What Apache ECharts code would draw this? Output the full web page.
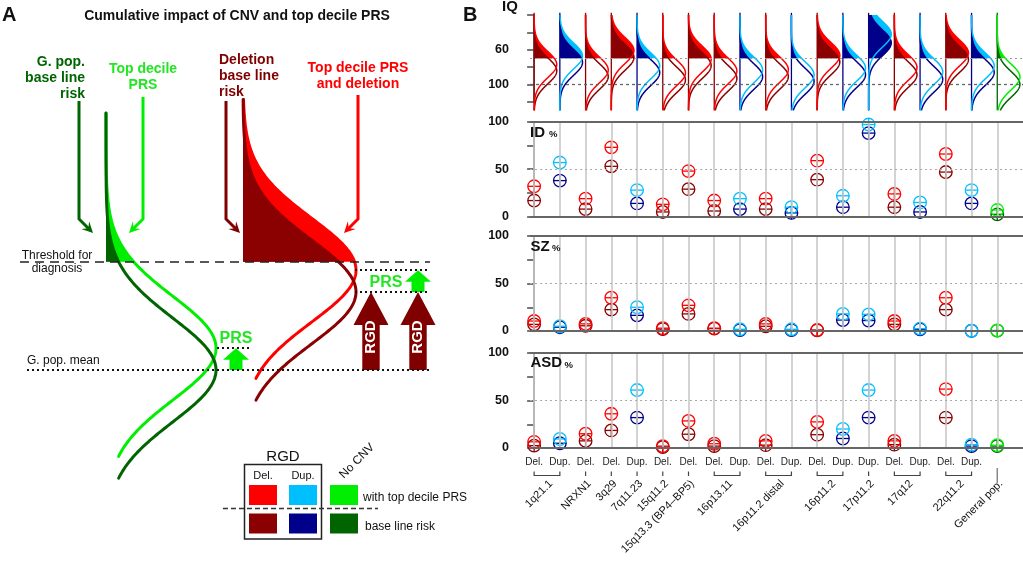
<!DOCTYPE html>
<html><head><meta charset="utf-8">
<script src="https://cdn.jsdelivr.net/npm/echarts@6/dist/echarts.min.js"></script>
<style>html,body{margin:0;padding:0;background:#fff}#c{width:1023px;height:561px}</style>
</head><body><div id="c"></div>
<script>
// ---------------- Panel B data ----------------
const cnvGroups = ['1q21.1','NRXN1','3q29','7q11.23','15q11.2','15q13.3 (BP4\u2013BP5)','16p13.11','16p11.2 distal','16p11.2','17p11.2','17q12','22q11.2','General pop.'];
const groupStart = [0,2,3,4,5,6,7,9,11,13,14,16,18];
const groupEnd   = [1,2,3,4,5,6,8,10,12,13,15,17,18];
const cnvType = ['Del.','Dup.','Del.','Del.','Dup.','Del.','Del.','Del.','Dup.','Del.','Dup.','Del.','Dup.','Dup.','Del.','Dup.','Del.','Dup.',''];
// mean IQ (baseline / with top decile PRS)
const iqMeanBase = [84.4,74.6,91.0,68.8,86.4,94.8,78.3,93.0,91.0,91.0,96.4,74.1,88.8,52.1,88.8,94.2,71.2,86.2,100];
const iqMeanPRS  = [77.2,67.3,83.4,61.0,78.7,86.7,70.9,84.6,83.4,83.0,89.0,66.6,81.3,42.2,80.6,85.5,63.8,78.7,91.5];
// % affected
const idBase  = [17,38,8,53,14,5,29,6,8,8,4,39,10,88,10,5,47,14,2.5];
const idPRS   = [32,57,19,73,28,13,48,17,19,19,10,59,22,97,24,15,66,28,7];
const szBase  = [7,4,5.5,22.5,16.5,2,18,2.5,1,5,1,0.7,11.5,11,7,1.8,22.5,0.3,0.4];
const szPRS   = [10.5,5,7.5,35,25,3,27,3,1.8,7.5,1.8,1,18,17.5,10.5,2.5,35,0.3,0.6];
const asdBase = [2.5,5,7.5,18.5,32,1,14.5,2,null,3,null,14,10,32,3.5,null,32,2,2];
const asdPRS  = [6.5,9.5,15,36,61,2,28.5,4.5,null,7.5,null,27.5,20,61,7.5,null,62,3.5,3];
const iqTickLabels = [60,100];
const pctTickLabels = [0,50,100];

// ---------------- Panel A (schematic, liability in SD units) ----------------
const aCurveName = ['G. pop. base line risk','Top decile PRS','Deletion base line risk','Top decile PRS and deletion'];
const aCurveMean = [0, 0.42, 1.5, 1.92];
const aThreshold = 2.08;
const prsShift = 0.42;
const rgdShift = 1.5;

const FONT = '"Liberation Sans", Arial, Helvetica, sans-serif';
const XMIN = -0.16, XMAX = 19;
const DRED='#8b0000', RED='#ff0000', NAVY='#00008b', SKY='#00bfff', DGREEN='#006400', LGREEN='#00ee00', TGREEN='#22e622';
function typeColors(t){ return t==='Del.' ? [DRED,RED] : t==='Dup.' ? [NAVY,SKY] : [DGREEN,LGREEN]; }

const chart = echarts.init(document.getElementById('c'));

// ---- render functions ----
function iqRender(params, api){
  const i = api.value(0), mB = api.value(1), mP = api.value(2);
  const [cB, cP] = typeColors(cnvType[i]);
  const amp = 0.88, sd = 15;
  const curve = (m,a,b)=>{ const p=[]; for(let q=a;q<=b+1e-9;q+=0.5){ p.push(api.coord([i+amp*Math.exp(-0.5*((q-m)/sd)*((q-m)/sd)), q])); } return p; };
  const area = m => { const p = curve(m,20,70); p.push(api.coord([i,70]), api.coord([i,20])); return p; };
  const s0 = api.coord([i,17.5]), s1 = api.coord([i,130]);
  return {type:'group', children:[
    {type:'polygon', shape:{points:area(mP)}, style:{fill:cP}},
    {type:'polygon', shape:{points:area(mB)}, style:{fill:cB}},
    {type:'line', shape:{x1:s0[0],y1:s0[1],x2:s1[0],y2:s1[1]}, style:{stroke:cB,lineWidth:1.3}},
    {type:'polyline', shape:{points:curve(mB,20,130)}, style:{stroke:cB,fill:'none',lineWidth:1.5}},
    {type:'polyline', shape:{points:curve(mP,20,130)}, style:{stroke:cP,fill:'none',lineWidth:1.5}}
  ]};
}
function markerRender(which){
  return function(params, api){
    const i = api.value(0), v = api.value(1);
    const c = typeColors(cnvType[i])[which];
    const p = api.coord([i,v]); const r = 6.3;
    const st = {stroke:c, lineWidth:1.3, fill:'none'};
    return {type:'group', children:[
      {type:'circle', shape:{cx:p[0],cy:p[1],r:r}, style:st},
      {type:'line', shape:{x1:p[0]-r,y1:p[1],x2:p[0]+r,y2:p[1]}, style:st},
      {type:'line', shape:{x1:p[0],y1:p[1]-r,x2:p[0],y2:p[1]+r}, style:st}
    ]};
  };
}
function bracketRender(params, api){
  const s = api.value(0), e = api.value(1);
  const p0 = api.coord([s,0]), p1 = api.coord([e,0]);
  const yb = p0[1];
  if (cnvType[s]==='') return {type:'line', shape:{x1:p0[0],y1:yb+20,x2:p0[0],y2:yb+35}, style:{stroke:'#888',lineWidth:1.5}};
  const st = {stroke:'#444', lineWidth:1.2, fill:'none'};
  if (s===e) return {type:'line', shape:{x1:p0[0],y1:yb+23.5,x2:p0[0],y2:yb+28}, style:st};
  return {type:'polyline', shape:{points:[[p0[0],yb+23.5],[p0[0],yb+27.5],[p1[0],yb+27.5],[p1[0],yb+23.5]]}, style:st};
}
function aColor(k){ return [DGREEN,LGREEN,DRED,RED][k]; }
function aPts(k, api, fromY, toY){
  const m = aCurveMean[k], base = k<2 ? 106 : 243, amp = k<2 ? 110 : 113;
  const pts=[]; for(let y=fromY; y>=toY-1e-9; y-=0.02){ pts.push(api.coord([base+amp*Math.exp(-0.5*(y-m)*(y-m)), y])); }
  return {pts, base};
}
function aFillRender(params, api){
  const k = api.value(0); const top = k<2 ? 4.94 : 5.2;
  const r = aPts(k, api, top, aThreshold);
  r.pts.push(api.coord([r.base, aThreshold]), api.coord([r.base, top]));
  return {type:'polygon', shape:{points:r.pts}, style:{fill:aColor(k)}};
}
function aLineRender(params, api){
  const k = api.value(0); const top = k<2 ? 4.94 : 5.2;
  const r = aPts(k, api, top, aCurveMean[k]-2.08);
  return {type:'polyline', shape:{points:r.pts}, style:{stroke:aColor(k), lineWidth:3, fill:'none', lineCap:'round'}};
}
function aArrowRender(params, api){
  const x = api.value(0), y0 = api.value(1), y1 = api.value(2), big = api.value(3);
  const pb = api.coord([x,y0]), pt = api.coord([x,y1]);
  const sh = big ? 8.7 : 6.5, hh = big ? 17.5 : 13, hl = big ? 33 : 11.5;
  const c = big ? '#800000' : LGREEN;
  const X = pb[0], yB = pb[1], yT = pt[1];
  const pts = [[X-sh,yB],[X-sh,yT+hl],[X-hh,yT+hl],[X,yT],[X+hh,yT+hl],[X+sh,yT+hl],[X+sh,yB]];
  const ch = [{type:'polygon', shape:{points:pts}, style:{fill:c}}];
  if (big) ch.push({type:'text', x:X, y:yB-33, rotation:Math.PI/2, style:{text:'RGD', fill:'#fff', fontSize:15, fontWeight:'bold', fontFamily:FONT, align:'center', verticalAlign:'middle'}});
  else ch.push({type:'text', x: X<300 ? X : X-32, y: X<300 ? yT-10 : yT+12, style:{text:'PRS', fill:TGREEN, fontSize:16, fontWeight:'bold', fontFamily:FONT, align:'center', verticalAlign:'middle'}});
  return {type:'group', children:ch};
}

// ---- grids & axes ----
const grids = [
  {left:0, top:58, width:440, height:494},
  {left:530, right:0, top:15, height:86.7},
  {left:530, right:0, top:121.7, height:95},
  {left:530, right:0, top:236, height:95},
  {left:530, right:0, top:353, height:95}
];
const hiddenX = gi => ({type:'value', gridIndex:gi, min:XMIN, max:XMAX, show:false});
const lblFmt = arr => v => arr.indexOf(v)>=0 ? String(v) : '';
const yStyle = (gi, extra) => Object.assign({
  type:'value', gridIndex:gi, position:'left', offset:11,
  axisLine:{show:true, lineStyle:{color:'#555', width:1.6}},
  axisTick:{show:true, length:7, lineStyle:{color:'#555', width:1.6}},
  splitLine:{show:false},
  axisLabel:{color:'#111', fontSize:12.5, fontWeight:'bold', fontFamily:FONT, margin:10}
}, extra);
const LABEL_SHIFT = 0.15; // rotated label anchor slightly right of the group centre
const groupCenter = cnvGroups.map((g,k)=> (groupStart[k]+groupEnd[k])/2);
const groupLabelAt = groupCenter.map(c => c + LABEL_SHIFT);

const xAxis = [
  {type:'value', gridIndex:0, min:0, max:440, show:false},
  hiddenX(1), hiddenX(2), hiddenX(3),
  {type:'value', gridIndex:4, position:'bottom', min:XMIN, max:XMAX, axisLine:{show:false}, axisTick:{show:false}, splitLine:{show:false},
   axisLabel:{customValues:cnvType.map((t,i)=>i), formatter:v=>cnvType[Math.round(v)]||'', fontSize:10, color:'#222', fontFamily:FONT, margin:9}},
  {type:'value', gridIndex:4, position:'bottom', offset:0, min:XMIN, max:XMAX, axisLine:{show:false}, axisTick:{show:false}, splitLine:{show:false},
   axisLabel:{customValues:groupLabelAt, formatter:v=>{const k=groupLabelAt.findIndex(c=>Math.abs(c-v)<1e-6); return k>=0?cnvGroups[k]:'';}, rotate:45, fontSize:11, color:'#111', fontFamily:FONT, margin:34}}
];
const yAxis = [
  {type:'value', gridIndex:0, min:-3.5, max:6, show:false},
  yStyle(1, {inverse:true, min:20, max:120, interval:20, axisLabel:Object.assign({}, yStyle(1).axisLabel, {formatter:lblFmt(iqTickLabels)})}),
  yStyle(2, {min:0, max:100, interval:25, axisLabel:Object.assign({}, yStyle(2).axisLabel, {formatter:lblFmt(pctTickLabels)})}),
  yStyle(3, {min:0, max:100, interval:25, axisLabel:Object.assign({}, yStyle(3).axisLabel, {formatter:lblFmt(pctTickLabels)})}),
  yStyle(4, {min:0, max:100, interval:25, axisLabel:Object.assign({}, yStyle(4).axisLabel, {formatter:lblFmt(pctTickLabels)})})
];

// ---- series ----
const series = [];
// Panel A
const mlA = (x0,x1,y,style) => [{coord:[x0,y], lineStyle:style}, {coord:[x1,y]}];
series.push({type:'line', xAxisIndex:0, yAxisIndex:0, data:[], silent:true,
  markLine:{silent:true, symbol:['none','none'], label:{show:false}, animation:false,
    data:[
      mlA(20,430,aThreshold,{type:[9,6], color:'#222', width:1.6}),
      mlA(27,430,0,{type:[2,3], color:'#111', width:2}),
      mlA(217,250,aCurveMean[1],{type:[2,3], color:'#111', width:2}),
      mlA(355,430,aCurveMean[2],{type:[2,3], color:'#111', width:2}),
      mlA(355,430,aCurveMean[3],{type:[2,3], color:'#111', width:2})
    ]}});
series.push({type:'custom', xAxisIndex:0, yAxisIndex:0, renderItem:aFillRender, data:[[1],[0],[3],[2]], silent:true});
series.push({type:'custom', xAxisIndex:0, yAxisIndex:0, renderItem:aLineRender, data:[[1],[0],[3],[2]], silent:true});
series.push({type:'custom', xAxisIndex:0, yAxisIndex:0, renderItem:aArrowRender, silent:true,
  data:[[236,0,prsShift,0],[371,0,rgdShift,1],[418,0,rgdShift,1],[418,rgdShift,rgdShift+prsShift,0]]});

// Panel B IQ
series.push({type:'line', xAxisIndex:1, yAxisIndex:1, data:[], silent:true,
  markLine:{silent:true, symbol:['none','none'], label:{show:false}, animation:false,
    data:[{yAxis:70, lineStyle:{type:[2,3], color:'#999', width:1.2}}, {yAxis:100, lineStyle:{type:[3,3], color:'#666', width:1.3}}]}});
series.push({type:'custom', xAxisIndex:1, yAxisIndex:1, renderItem:iqRender, clip:false, silent:true,
  data:cnvType.map((t,i)=>[i, iqMeanBase[i], iqMeanPRS[i]])});

// Panels ID / SZ / ASD
const panels = [[idBase,idPRS],[szBase,szPRS],[asdBase,asdPRS]];
panels.forEach((pp, n) => {
  const gi = n+2;
  series.push({type:'line', xAxisIndex:gi, yAxisIndex:gi, data:[], silent:true,
    markLine:{silent:true, symbol:['none','none'], label:{show:false}, animation:false,
      data: cnvType.map((t,i)=>({xAxis:i, lineStyle:{type:'solid', color:'#c8c8c8', width:1.6}}))
        .concat([{yAxis:50, lineStyle:{type:[2,3], color:'#aaa', width:1}},
                 {yAxis:0, lineStyle:{type:'solid', color:'#666', width:2}},
                 {yAxis:100, lineStyle:{type:'solid', color:'#666', width:2}}])}});
  [0,1].forEach(w => {
    const arr = pp[w];
    series.push({type:'custom', xAxisIndex:gi, yAxisIndex:gi, renderItem:markerRender(w), clip:false, silent:true,
      data: arr.map((v,i)=> v==null ? null : [i,v]).filter(d=>d)});
  });
});
// Brackets under ASD
series.push({type:'custom', xAxisIndex:4, yAxisIndex:4, renderItem:bracketRender, clip:false, silent:true,
  data: cnvGroups.map((g,k)=>[groupStart[k], groupEnd[k]])});

// ---- graphic annotations ----
const G = [];
function txt(x,y,text,o){ o=o||{}; G.push({type:'text', x:x, y:y, rotation:o.rot||0, z:10,
  style:{text:text, fill:o.color||'#111', fontSize:o.size||12, fontWeight:o.bold?'bold':'normal', fontFamily:FONT,
         align:o.align||'left', verticalAlign:o.va||'middle', lineHeight:o.lh||undefined}}); }
function bentArrow(x, yTop, yBend, dir, color){
  const L=14, tip=[x+dir*L, yBend+L];
  const d=[dir/Math.SQRT2, 1/Math.SQRT2], n=[-d[1], d[0]];
  const hl=11, hw=5.5;
  const end=[tip[0]-d[0]*6, tip[1]-d[1]*6];
  G.push({type:'polyline', z:10, shape:{points:[[x,yTop],[x,yBend],end]}, style:{stroke:color, lineWidth:3, fill:'none'}});
  G.push({type:'polygon', z:10, shape:{points:[tip,[tip[0]-d[0]*hl+n[0]*hw, tip[1]-d[1]*hl+n[1]*hw],[tip[0]-d[0]*hl*0.6, tip[1]-d[1]*hl*0.6],[tip[0]-d[0]*hl-n[0]*hw, tip[1]-d[1]*hl-n[1]*hw]]}, style:{fill:color}});
}
txt(2,15,'A',{bold:true,size:20});
txt(463,15,'B',{bold:true,size:20});
txt(237,16,'Cumulative impact of CNV and top decile PRS',{bold:true,size:14,align:'center'});
txt(85,54,'G. pop.\nbase line\nrisk',{bold:true,size:14,align:'right',va:'top',lh:16,color:DGREEN});
txt(143,61,'Top decile\nPRS',{bold:true,size:14,align:'center',va:'top',lh:16,color:TGREEN});
txt(219,52,'Deletion\nbase line\nrisk',{bold:true,size:14,align:'left',va:'top',lh:16,color:'#800000'});
txt(358,60,'Top decile PRS\nand deletion',{bold:true,size:14,align:'center',va:'top',lh:16,color:RED});
bentArrow(79,101,219,1,DGREEN);
bentArrow(143,97,219,-1,LGREEN);
bentArrow(226,101,219,1,'#800000');
bentArrow(358,95,219,-1,RED);
txt(57,249,'Threshold for\ndiagnosis',{size:12,align:'center',va:'top',lh:13});
txt(27,361,'G. pop. mean',{size:12});
// legend
txt(283,457,'RGD',{size:15,align:'center'});
G.push({type:'rect', z:10, shape:{x:244.5,y:464.5,width:77,height:74.5}, style:{fill:'none',stroke:'#222',lineWidth:1.5}});
txt(263,476,'Del.',{size:11,align:'center'});
txt(303,476,'Dup.',{size:11,align:'center'});
[[249,RED],[289,SKY],[330,LGREEN]].forEach(s=>G.push({type:'rect',z:10,shape:{x:s[0],y:485,width:28,height:20},style:{fill:s[1]}}));
[[249,DRED],[289,NAVY],[330,DGREEN]].forEach(s=>G.push({type:'rect',z:10,shape:{x:s[0],y:513.5,width:28,height:20},style:{fill:s[1]}}));
G.push({type:'line', z:10, shape:{x1:223,y1:508.5,x2:378,y2:508.5}, style:{stroke:'#333',lineWidth:1.3,lineDash:[5,3]}});
txt(363,498,'with top decile PRS',{size:12});
txt(365,527,'base line risk',{size:12});
txt(357,461,'No CNV',{size:12,align:'center',rot:Math.PI/4});
// panel B labels
txt(502,7,'IQ',{bold:true,size:15});
txt(530,132.5,'ID',{bold:true,size:15}); txt(549,134.5,'%',{bold:true,size:9.5});
txt(530.5,246.7,'SZ',{bold:true,size:15}); txt(552,248.5,'%',{bold:true,size:9.5});
txt(530.5,363,'ASD',{bold:true,size:15}); txt(564.5,365,'%',{bold:true,size:9.5});

chart.setOption({animation:false, backgroundColor:'#fff', grid:grids, xAxis:xAxis, yAxis:yAxis, series:series, graphic:G});
</script></body></html>
